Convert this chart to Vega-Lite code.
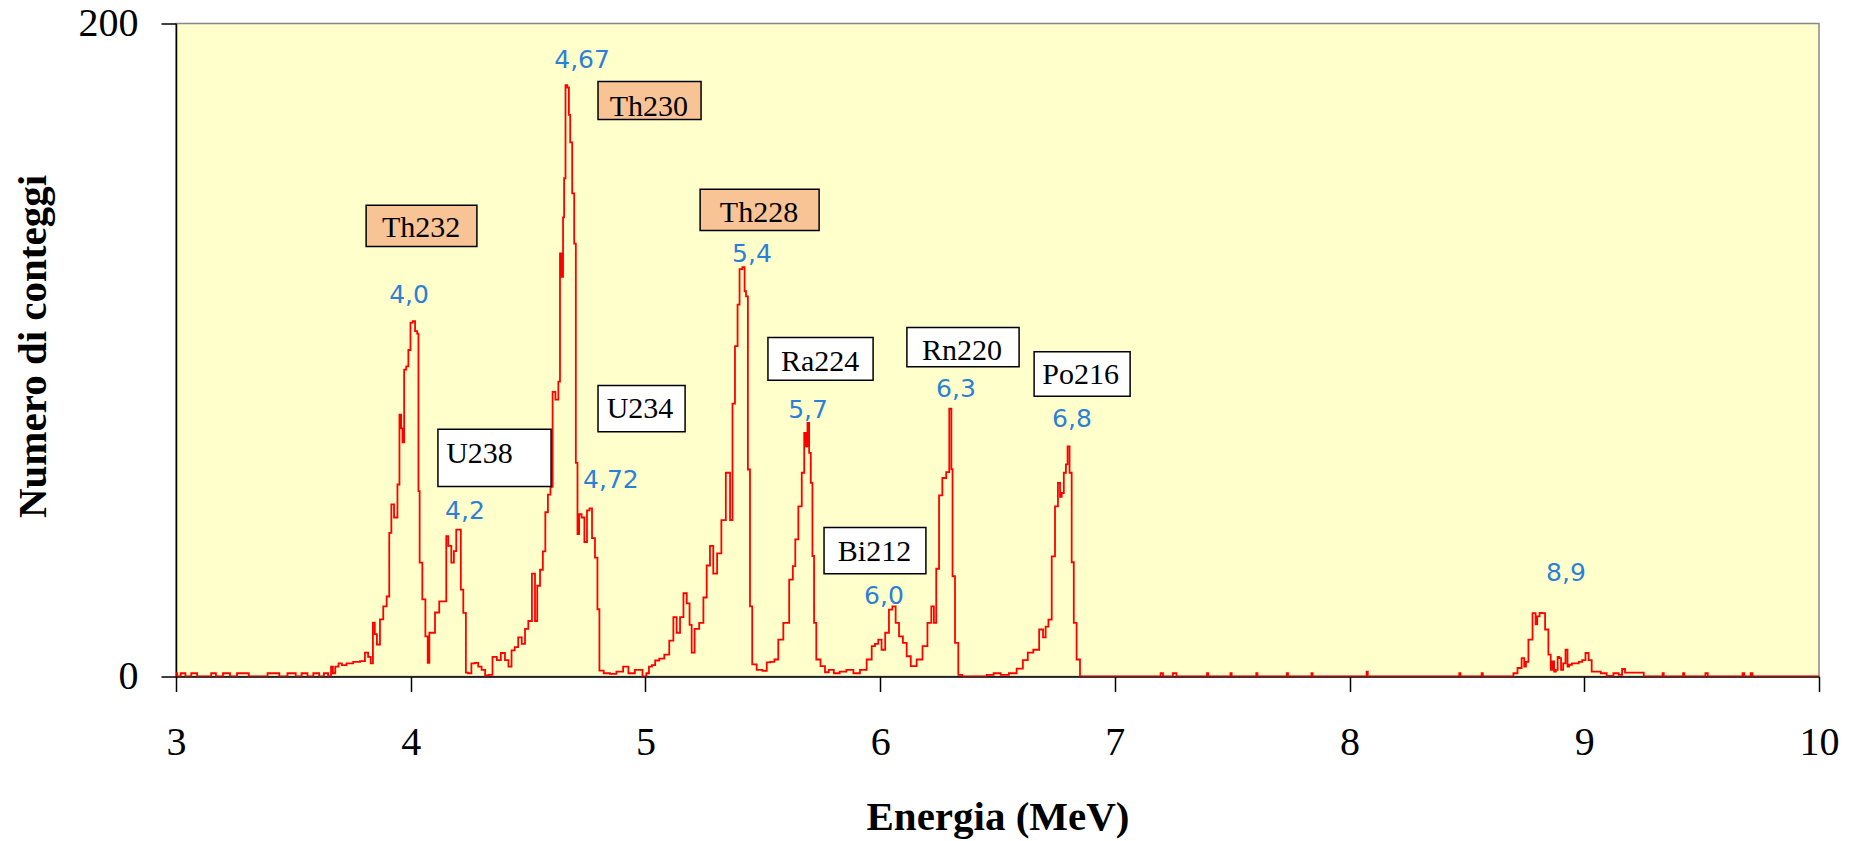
{
  "$schema": "https://vega.github.io/schema/vega-lite/v6.json",
  "width": 1643,
  "height": 653,
  "autosize": {"type": "none"},
  "padding": {"left": 176, "top": 23.5, "right": 36, "bottom": 164.5},
  "background": "white",
  "view": {"fill": "#FFFFCC", "stroke": "#888888", "strokeWidth": 1.5},
  "config": {
    "axis": {
      "domainColor": "black", "domainWidth": 1.5, "tickColor": "black", "tickWidth": 1.5, "tickSize": 15,
      "grid": false, "labelFont": "Liberation Serif", "labelFontSize": 40, "labelColor": "black",
      "titleFont": "Liberation Serif", "titleFontSize": 41, "titleFontWeight": "bold", "titleColor": "black",
      "labelFlush": false, "labelOverlap": false
    }
  },
  "datasets": {
    "spectrum": [
      {"E":3.0,"C":1},{"E":3.01,"C":0},{"E":3.03,"C":1},{"E":3.05,"C":0},{"E":3.08,"C":1},{"E":3.10,"C":0},{"E":3.14,"C":0},{"E":3.16,"C":1},{"E":3.18,"C":0},{"E":3.22,"C":1},{"E":3.24,"C":0},{"E":3.28,"C":1},{"E":3.30,"C":1},{"E":3.32,"C":0},{"E":3.38,"C":0},{"E":3.40,"C":1},{"E":3.43,"C":1},{"E":3.45,"C":0},{"E":3.50,"C":1},{"E":3.52,"C":0},{"E":3.55,"C":1},{"E":3.57,"C":0},{"E":3.60,"C":1},{"E":3.62,"C":0},{"E":3.64,"C":1},
      {"E":3.656,"C":0},{"E":3.665,"C":3},{"E":3.672,"C":1},{"E":3.685,"C":3},{"E":3.70,"C":4},{"E":3.713,"C":3.5},{"E":3.74,"C":4},{"E":3.77,"C":4.5},{"E":3.798,"C":4.7},{"E":3.812,"C":7.3},{"E":3.825,"C":6},{"E":3.834,"C":4},{"E":3.844,"C":16.5},{"E":3.85,"C":13},{"E":3.862,"C":9.8},{"E":3.876,"C":17.5},{"E":3.890,"C":21.5},{"E":3.905,"C":24.5},{"E":3.912,"C":44},{"E":3.923,"C":52.7},{"E":3.935,"C":48.7},{"E":3.940,"C":48.7},{"E":3.947,"C":58.8},{"E":3.957,"C":80.2},{"E":3.962,"C":76},{"E":3.968,"C":71.7},{"E":3.976,"C":94},{"E":3.986,"C":95},{"E":3.994,"C":100},{"E":4.004,"C":108.4},{"E":4.014,"C":108.8},{"E":4.023,"C":105.8},{"E":4.032,"C":105},{"E":4.034,"C":56.8},{"E":4.042,"C":34.9},{"E":4.057,"C":23.6},{"E":4.068,"C":12.3},{"E":4.077,"C":4.2},{"E":4.082,"C":13.4},{"E":4.096,"C":13.4},{"E":4.111,"C":19.6},{"E":4.132,"C":23},{"E":4.150,"C":23},{"E":4.153,"C":43},{"E":4.167,"C":40},{"E":4.179,"C":34.9},{"E":4.189,"C":38.4},{"E":4.199,"C":45},{"E":4.210,"C":45},{"E":4.217,"C":26.6},{"E":4.231,"C":19.5},{"E":4.239,"C":1.2},{"E":4.250,"C":1},{"E":4.267,"C":4},{"E":4.28,"C":4.2},{"E":4.295,"C":3},{"E":4.309,"C":2},{"E":4.325,"C":0.3},{"E":4.338,"C":0.5},{"E":4.359,"C":6},{"E":4.375,"C":5},{"E":4.393,"C":7.2},{"E":4.41,"C":5},{"E":4.423,"C":3},{"E":4.436,"C":8},{"E":4.45,"C":9},{"E":4.466,"C":12},{"E":4.48,"C":10},{"E":4.494,"C":14.6},{"E":4.508,"C":17},{"E":4.525,"C":31.5},{"E":4.534,"C":17},{"E":4.544,"C":27.8},{"E":4.558,"C":32.7},{"E":4.568,"C":38.3},{"E":4.579,"C":50.3},{"E":4.590,"C":55.7},{"E":4.601,"C":58.1},{"E":4.608,"C":87.2},{"E":4.625,"C":84.8},{"E":4.633,"C":90.3},{"E":4.639,"C":129.6},{"E":4.648,"C":122.4},{"E":4.650,"C":140.6},{"E":4.657,"C":152.6},{"E":4.662,"C":181.1},{"E":4.672,"C":180.4},{"E":4.676,"C":172},{"E":4.683,"C":163.6},{"E":4.693,"C":148},{"E":4.700,"C":132.6},{"E":4.707,"C":65.4},{"E":4.714,"C":43.6},{"E":4.721,"C":49.7},{"E":4.735,"C":48.7},{"E":4.745,"C":41.2},{"E":4.757,"C":50.9},{"E":4.767,"C":51.5},{"E":4.778,"C":42.4},{"E":4.792,"C":36.4},{"E":4.799,"C":20.6},{"E":4.809,"C":1.8},{"E":4.835,"C":1},{"E":4.863,"C":0.8},{"E":4.89,"C":1.5},{"E":4.920,"C":3},{"E":4.935,"C":1},{"E":4.948,"C":1},{"E":4.962,"C":2},{"E":4.977,"C":2},{"E":4.998,"C":0},{"E":5.010,"C":1},{"E":5.020,"C":3},{"E":5.035,"C":3.5},{"E":5.048,"C":4.9},{"E":5.07,"C":5.5},{"E":5.091,"C":6.7},{"E":5.112,"C":11},{"E":5.126,"C":18.2},{"E":5.140,"C":13.4},{"E":5.155,"C":18.2},{"E":5.169,"C":25.5},{"E":5.183,"C":22.4},{"E":5.193,"C":15.8},{"E":5.201,"C":7.3},{"E":5.218,"C":14.6},{"E":5.240,"C":16.4},{"E":5.254,"C":24.2},{"E":5.268,"C":34},{"E":5.282,"C":40},{"E":5.296,"C":31.5},{"E":5.315,"C":37.7},{"E":5.332,"C":47.9},{"E":5.353,"C":62.4},{"E":5.368,"C":47.9},{"E":5.374,"C":83.6},{"E":5.389,"C":101.2},{"E":5.396,"C":113.9},{"E":5.406,"C":124.8},{"E":5.420,"C":125.4},{"E":5.425,"C":118},{"E":5.432,"C":116.4},{"E":5.441,"C":63.4},{"E":5.450,"C":21.5},{"E":5.460,"C":3.7},{"E":5.488,"C":2},{"E":5.510,"C":1.7},{"E":5.524,"C":4.3},{"E":5.540,"C":4.5},{"E":5.559,"C":5.2},{"E":5.573,"C":11.3},{"E":5.602,"C":16.4},{"E":5.623,"C":29.7},{"E":5.633,"C":33.8},{"E":5.644,"C":42},{"E":5.659,"C":52.1},{"E":5.673,"C":62.4},{"E":5.680,"C":74.6},{"E":5.687,"C":70.5},{"E":5.694,"C":77.7},{"E":5.701,"C":68.5},{"E":5.708,"C":59.3},{"E":5.715,"C":36.9},{"E":5.722,"C":16.4},{"E":5.734,"C":5.2},{"E":5.758,"C":3.2},{"E":5.772,"C":1.3},{"E":5.790,"C":2},{"E":5.815,"C":1},{"E":5.84,"C":1.5},{"E":5.872,"C":2},{"E":5.90,"C":1},{"E":5.928,"C":2},{"E":5.957,"C":5.2},{"E":5.971,"C":9.3},{"E":5.985,"C":10},{"E":5.999,"C":11.3},{"E":6.013,"C":8.2},{"E":6.030,"C":13.4},{"E":6.045,"C":20.5},{"E":6.059,"C":21.5},{"E":6.073,"C":16.4},{"E":6.088,"C":12.3},{"E":6.106,"C":10.3},{"E":6.120,"C":6.2},{"E":6.141,"C":3.2},{"E":6.170,"C":5.2},{"E":6.191,"C":9.3},{"E":6.212,"C":16.4},{"E":6.224,"C":21.5},{"E":6.234,"C":16.4},{"E":6.244,"C":33},{"E":6.258,"C":55.5},{"E":6.272,"C":60.8},{"E":6.291,"C":62.6},{"E":6.298,"C":82},{"E":6.302,"C":82},{"E":6.305,"C":63.5},{"E":6.312,"C":30.7},{"E":6.326,"C":10.3},{"E":6.340,"C":0.5},{"E":6.36,"C":0},{"E":6.438,"C":0},{"E":6.47,"C":0.5},{"E":6.497,"C":1},{"E":6.53,"C":0.5},{"E":6.567,"C":1},{"E":6.596,"C":2.4},{"E":6.62,"C":5},{"E":6.638,"C":7.3},{"E":6.667,"C":8.2},{"E":6.688,"C":14.4},{"E":6.700,"C":12},{"E":6.710,"C":15.3},{"E":6.724,"C":17.4},{"E":6.738,"C":36.8},{"E":6.752,"C":52.1},{"E":6.763,"C":59.3},{"E":6.770,"C":55},{"E":6.777,"C":56.2},{"E":6.788,"C":62.4},{"E":6.795,"C":65},{"E":6.802,"C":70.5},{"E":6.812,"C":62.4},{"E":6.820,"C":35},{"E":6.830,"C":16.4},{"E":6.844,"C":5.2},{"E":6.859,"C":0},
      {"E":7.19,"C":0},{"E":7.2,"C":1},{"E":7.21,"C":0},{"E":7.245,"C":0},{"E":7.25,"C":1},{"E":7.26,"C":1},{"E":7.265,"C":0},{"E":7.39,"C":0},{"E":7.395,"C":1},{"E":7.40,"C":0},{"E":7.49,"C":0},{"E":7.495,"C":1},{"E":7.50,"C":0},{"E":7.60,"C":0},{"E":7.605,"C":1},{"E":7.61,"C":0},{"E":7.73,"C":0},{"E":7.735,"C":1},{"E":7.74,"C":0},{"E":7.835,"C":0},{"E":7.84,"C":1},{"E":7.845,"C":0},{"E":8.07,"C":0},{"E":8.075,"C":1.5},{"E":8.08,"C":0},{"E":8.465,"C":0},{"E":8.47,"C":1},{"E":8.475,"C":0},{"E":8.56,"C":0},{"E":8.565,"C":1},{"E":8.57,"C":0},{"E":8.691,"C":0},
      {"E":8.705,"C":1},{"E":8.726,"C":2.6},{"E":8.740,"C":5.6},{"E":8.748,"C":3},{"E":8.755,"C":4.5},{"E":8.769,"C":11.3},{"E":8.790,"C":19.4},{"E":8.795,"C":16},{"E":8.804,"C":18.4},{"E":8.815,"C":19.5},{"E":8.826,"C":19.4},{"E":8.840,"C":14.4},{"E":8.854,"C":6.7},{"E":8.860,"C":2},{"E":8.868,"C":4.6},{"E":8.875,"C":1.5},{"E":8.883,"C":2},{"E":8.890,"C":6},{"E":8.897,"C":5.6},{"E":8.905,"C":2},{"E":8.915,"C":4},{"E":8.925,"C":8.2},{"E":8.932,"C":3},{"E":8.939,"C":3.6},{"E":8.955,"C":4},{"E":8.968,"C":4},{"E":8.985,"C":4.5},{"E":8.997,"C":5},{"E":9.013,"C":7.2},{"E":9.024,"C":5},{"E":9.039,"C":1.5},{"E":9.06,"C":1.5},{"E":9.081,"C":1},{"E":9.11,"C":0.2},{"E":9.138,"C":1},{"E":9.155,"C":0.5},{"E":9.167,"C":2.3},{"E":9.18,"C":1.2},{"E":9.252,"C":1.2},{"E":9.255,"C":0},{"E":9.33,"C":0},{"E":9.337,"C":1},{"E":9.34,"C":0},{"E":9.42,"C":0},{"E":9.422,"C":1},{"E":9.43,"C":0},{"E":9.51,"C":0},{"E":9.522,"C":1},{"E":9.53,"C":0},{"E":9.67,"C":0},{"E":9.678,"C":1},{"E":9.685,"C":0},{"E":9.705,"C":0},{"E":9.713,"C":1},{"E":9.72,"C":0},{"E":10,"C":0}
    ],
    "boxes": [
      {"name":"Th232","kind":"Th","E":3.810,"E2":4.282,"C":144.3,"C2":131.7,"TE":4.044,"TC":134.5},
      {"name":"Th230","kind":"Th","E":4.798,"E2":5.237,"C":182.2,"C2":170.6,"TE":5.015,"TC":171.8},
      {"name":"Th228","kind":"Th","E":5.233,"E2":5.740,"C":149.2,"C2":136.6,"TE":5.484,"TC":139.1},
      {"name":"U238","kind":"other","E":4.116,"E2":4.598,"C":75.7,"C2":58.2,"TE":4.293,"TC":65.5},
      {"name":"U234","kind":"other","E":4.798,"E2":5.169,"C":89.1,"C2":75.0,"TE":4.977,"TC":79.3},
      {"name":"Ra224","kind":"other","E":5.522,"E2":5.970,"C":103.8,"C2":90.7,"TE":5.744,"TC":93.7},
      {"name":"Rn220","kind":"other","E":6.114,"E2":6.592,"C":106.9,"C2":94.9,"TE":6.349,"TC":96.8},
      {"name":"Po216","kind":"other","E":6.656,"E2":7.065,"C":99.5,"C2":85.8,"TE":6.854,"TC":89.7},
      {"name":"Bi212","kind":"other","E":5.761,"E2":6.195,"C":45.6,"C2":31.5,"TE":5.976,"TC":35.5}
    ],
    "peaks": [
      {"label":"4,67","E":4.730,"C":186.5},
      {"label":"4,0","E":3.993,"C":114.5},
      {"label":"5,4","E":5.454,"C":126.8},
      {"label":"4,2","E":4.231,"C":48.1},
      {"label":"4,72","E":4.853,"C":57.6},
      {"label":"5,7","E":5.693,"C":79.3},
      {"label":"6,3","E":6.323,"C":85.5},
      {"label":"6,8","E":6.817,"C":76.3},
      {"label":"6,0","E":6.016,"C":22.1},
      {"label":"8,9","E":8.922,"C":29.1}
    ]
  },
  "layer": [
    {
      "data": {"name": "spectrum"},
      "mark": {"type": "line", "color": "#FF0000", "strokeWidth": 1.8, "clip": true, "interpolate": "step"},
      "encoding": {
        "x": {"field": "E", "type": "quantitative", "title": "Energia (MeV)",
              "scale": {"domain": [3, 10], "nice": false, "zero": false},
              "axis": {"values": [3,4,5,6,7,8,9,10], "format": "d", "labelBaseline": "alphabetic", "labelPadding": 63, "titleY": 153, "titleBaseline": "alphabetic"}},
        "y": {"field": "C", "type": "quantitative", "title": "Numero di conteggi",
              "scale": {"domain": [0, 200], "nice": false},
              "axis": {"values": [0, 200], "format": "d", "labelPadding": 23, "labelBaseline": "middle", "titleX": -143, "titleY": 322.5, "titleAngle": -90, "titleBaseline": "middle", "titleAlign": "center"}}
      }
    },
    {
      "mark": {"type": "rule", "color": "black", "strokeWidth": 1.5},
      "encoding": {"y": {"datum": 200}}
    },
    {
      "data": {"name": "boxes"},
      "mark": {"type": "rect", "stroke": "black", "strokeWidth": 1.5},
      "encoding": {
        "x": {"field": "E", "type": "quantitative"},
        "x2": {"field": "E2"},
        "y": {"field": "C", "type": "quantitative"},
        "y2": {"field": "C2"},
        "fill": {"field": "kind", "type": "nominal", "scale": {"domain": ["Th", "other"], "range": ["#F8C496", "#FFFFFF"]}, "legend": null}
      }
    },
    {
      "data": {"name": "boxes"},
      "mark": {"type": "text", "font": "Liberation Serif", "fontSize": 30, "color": "black", "baseline": "alphabetic", "align": "center"},
      "encoding": {
        "x": {"field": "TE", "type": "quantitative"},
        "y": {"field": "TC", "type": "quantitative"},
        "text": {"field": "name"}
      }
    },
    {
      "data": {"name": "peaks"},
      "mark": {"type": "text", "font": "DejaVu Sans", "fontSize": 25, "color": "#2C7FD6", "baseline": "alphabetic", "align": "center"},
      "encoding": {
        "x": {"field": "E", "type": "quantitative"},
        "y": {"field": "C", "type": "quantitative"},
        "text": {"field": "label"}
      }
    }
  ]
}
